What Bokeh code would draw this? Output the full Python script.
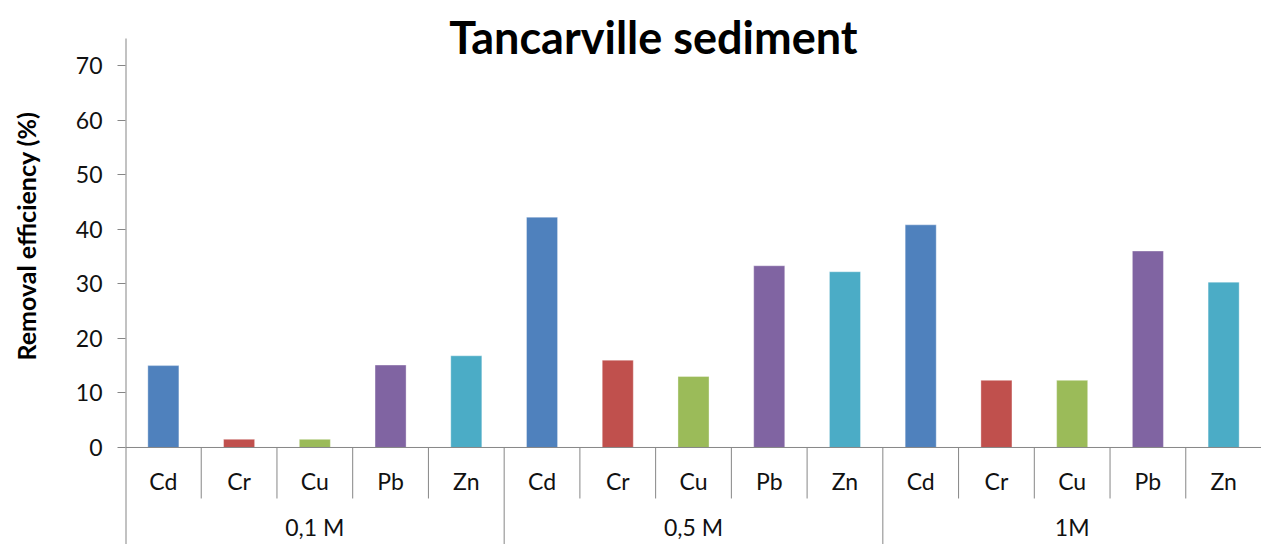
from bokeh.plotting import figure
from bokeh.models import FactorRange, Range1d, Label, ColumnDataSource, Span, FixedTicker
from bokeh.core.properties import value
from bokeh.embed import file_html
from bokeh.resources import INLINE

# ---- data ----
concentrations = ["0,1 M", "0,5 M", "1M"]
metals = ["Cd", "Cr", "Cu", "Pb", "Zn"]
metal_colors = ["#4F81BD", "#C0504D", "#9BBB59", "#8064A2", "#4BACC6"]
values_01M = [15.0, 1.5, 1.5, 15.1, 16.8]
values_05M = [42.2, 16.0, 13.0, 33.3, 32.2]
values_1M = [40.8, 12.3, 12.3, 36.0, 30.3]
y_ticks = [0, 10, 20, 30, 40, 50, 60, 70]
title_text = "Tancarville sediment"
y_label = "Removal efficiency (%)"

series = [values_01M, values_05M, values_1M]
factors = [(c, m) for c in concentrations for m in metals]
tops = [v for s in series for v in s]
colors = [metal_colors[i] for _ in concentrations for i in range(len(metals))]

FONT = "Lato"
AXIS_COLOR = "#868686"
TEXT_COLOR = "#111111"
Y_MIN, Y_MAX = -17.78, 81.91
AXIS_TOP = 74.95
NBSP = "\u00a0"

p = figure(width=1261, height=544, output_backend="svg", toolbar_location=None,
           x_range=FactorRange(*factors, factor_padding=0, group_padding=0, range_padding=0),
           y_range=Range1d(Y_MIN, Y_MAX),
           min_border_left=125, min_border_right=0, min_border_top=0, min_border_bottom=0)
p.outline_line_color = None
p.xgrid.visible = False
p.ygrid.visible = False
p.xaxis.visible = False

src = ColumnDataSource(dict(x=factors, top=tops, color=colors))
p.vbar(x="x", top="top", bottom=0, width=0.41, fill_color="color",
       line_color="white", line_alpha=0.35, line_width=1, source=src)

# y axis (ticks + labels from bokeh; axis line drawn as a segment so it starts below the title)
ya = p.yaxis[0]
ya.ticker = FixedTicker(ticks=y_ticks)
ya.axis_line_color = None
ya.major_tick_line_color = AXIS_COLOR
ya.major_tick_out = 8
ya.major_tick_in = 0
ya.minor_tick_line_color = None
ya.major_label_standoff = 15
ya.major_label_text_font = FONT
ya.major_label_text_font_size = "23px"
ya.major_label_text_color = TEXT_COLOR
# leading non-breaking spaces lift the centred label to sit over the 0-70 scale, as in the original
ya.axis_label = NBSP * 12 + y_label
ya.axis_label_text_font = FONT
ya.axis_label_text_font_size = "25px"
ya.axis_label_text_font_style = "bold"
ya.axis_label_text_color = "black"
ya.axis_label_standoff = 32

first_edge = (concentrations[0], metals[0], -0.5)
p.segment(x0=[first_edge], y0=[Y_MIN], x1=[first_edge], y1=[AXIS_TOP],
          line_color=AXIS_COLOR, line_width=2)

# x baseline
p.add_layout(Span(location=0, dimension="width", line_color=AXIS_COLOR, line_width=1))

# separators between metal categories (short) and groups (long)
short_x = [(c, m, -0.5) for c in concentrations for m in metals[1:]]
p.segment(x0=short_x, y0=[0] * len(short_x), x1=short_x, y1=[-9.35] * len(short_x),
          line_color=AXIS_COLOR, line_width=1)
long_x = [(c, metals[0], -0.5) for c in concentrations[1:]] + [(concentrations[-1], metals[-1], 0.5)]
p.segment(x0=long_x, y0=[0] * len(long_x), x1=long_x, y1=[Y_MIN] * len(long_x),
          line_color=AXIS_COLOR, line_width=1)

# category labels
p.text(x=factors, y=[-6.14] * len(factors), text=[f[1] for f in factors],
       text_font=value(FONT), text_font_size="23px", text_color=TEXT_COLOR,
       text_align="center", text_baseline="middle")
p.text(x=concentrations, y=[-14.66] * len(concentrations), text=concentrations,
       text_font=value(FONT), text_font_size="23px", text_color=TEXT_COLOR,
       text_align="center", text_baseline="middle")

# title
p.add_layout(Label(x=6.97, y=75.3, text=title_text, text_font=FONT, text_font_size="45px",
                   text_font_style="bold", text_align="center", text_baseline="alphabetic",
                   text_color="black"))

open("out.html", "w").write(file_html(p, INLINE))
